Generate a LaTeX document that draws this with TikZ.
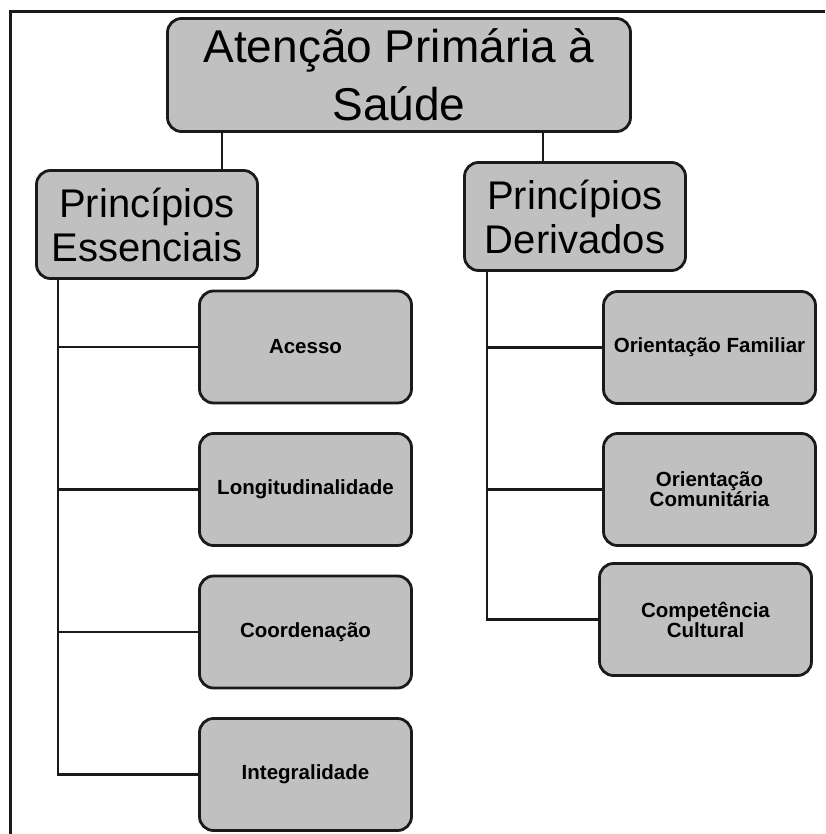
\documentclass[tikz,border=0pt]{standalone}
\usepackage{fontspec}
\setmainfont{Liberation Sans}
\definecolor{boxgray}{HTML}{C0C0C0}
\definecolor{ink}{HTML}{1A1A1A}
\begin{document}
\begin{tikzpicture}[x=1pt,y=-1pt,
  box/.style={draw=ink, line width=2.8pt, fill=boxgray, rounded corners=14pt,
    align=center, inner sep=0pt, text=black},
  bigbox/.style={box, font=\fontsize{46}{58}\selectfont},
  midbox/.style={box, font=\fontsize{40}{44}\selectfont},
  smallbox/.style={box, minimum width=212pt, minimum height=112pt,
    font=\bfseries\fontsize{20.5}{20}\selectfont},
  conn/.style={draw=ink, line width=2.8pt}]
\useasboundingbox (0,0) rectangle (825,834);
% frame
\draw[ink, line width=3pt] (10,834) -- (10,12) -- (825,12);
% nodes
\node[bigbox, minimum width=463pt, minimum height=113pt] (top) at (399,75)
  {Atenção Primária à\\Saúde};
\node[midbox, minimum width=221pt, minimum height=108pt] (ess) at (147,224.5)
  {Princípios\\Essenciais};
\node[midbox, minimum width=221pt, minimum height=108pt] (der) at (575,216.5)
  {Princípios\\Derivados};
\node[smallbox] (acesso) at (305.5,347) {Acesso};
\node[smallbox] (longi) at (305.5,489.5) {Longitudinalidade};
\node[smallbox] (coord) at (305.5,632) {Coordenação};
\node[smallbox] (integ) at (305.5,774.5) {Integralidade};
\node[smallbox] (fam) at (709.5,347.5) {Orientação Familiar};
\node[smallbox] (com) at (709.5,489.5) {Orientação\\Comunitária};
\node[smallbox] (comp) at (705.5,619.5) {Competência\\Cultural};
% helper x positions
\coordinate (xa) at (222,0);
\coordinate (xb) at (543,0);
\coordinate (xe) at (58,0);
\coordinate (xd) at (487,0);
% connectors from top
\draw[conn] (top.south -| xa) -- (ess.north -| xa);
\draw[conn] (top.south -| xb) -- (der.north -| xb);
% essential branch
\draw[conn] (ess.south -| xe) |- (integ.west);
\draw[conn] (xe |- acesso.west) -- (acesso.west);
\draw[conn] (xe |- longi.west) -- (longi.west);
\draw[conn] (xe |- coord.west) -- (coord.west);
% derived branch
\draw[conn] (der.south -| xd) |- (comp.west);
\draw[conn] (xd |- fam.west) -- (fam.west);
\draw[conn] (xd |- com.west) -- (com.west);
\end{tikzpicture}
\end{document}
